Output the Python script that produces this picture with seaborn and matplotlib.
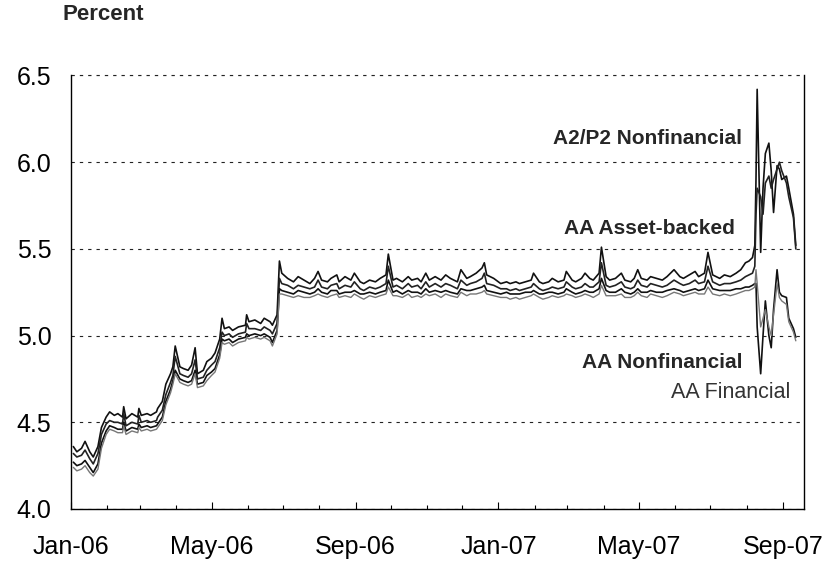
import matplotlib
matplotlib.use("Agg")
import matplotlib.pyplot as plt
import matplotlib.dates as mdates
import seaborn as sns
import pandas as pd

# ---------------- data ----------------
dates = [
    "2006-01-03", "2006-01-06", "2006-01-10", "2006-01-13", "2006-01-17", "2006-01-20", "2006-01-24", "2006-01-27", "2006-01-31",
    "2006-02-03", "2006-02-07", "2006-02-10", "2006-02-14", "2006-02-15", "2006-02-17", "2006-02-22", "2006-02-27", "2006-02-28",
    "2006-03-02", "2006-03-07", "2006-03-10", "2006-03-15", "2006-03-16", "2006-03-20", "2006-03-23", "2006-03-27", "2006-03-29", "2006-03-31",
    "2006-04-04", "2006-04-07", "2006-04-11", "2006-04-14", "2006-04-17", "2006-04-19", "2006-04-24", "2006-04-27",
    "2006-05-01", "2006-05-04", "2006-05-08", "2006-05-10", "2006-05-12", "2006-05-16", "2006-05-19", "2006-05-24", "2006-05-30", "2006-05-31",
    "2006-06-02", "2006-06-07", "2006-06-12", "2006-06-15", "2006-06-20", "2006-06-22", "2006-06-26", "2006-06-28", "2006-06-30",
    "2006-07-05", "2006-07-10", "2006-07-14", "2006-07-19", "2006-07-24", "2006-07-28", "2006-07-31",
    "2006-08-03", "2006-08-08", "2006-08-11", "2006-08-16", "2006-08-18", "2006-08-23", "2006-08-28", "2006-08-31",
    "2006-09-05", "2006-09-08", "2006-09-13", "2006-09-18", "2006-09-22", "2006-09-27", "2006-09-29",
    "2006-10-03", "2006-10-06", "2006-10-11", "2006-10-16", "2006-10-19", "2006-10-24", "2006-10-27", "2006-10-31",
    "2006-11-03", "2006-11-08", "2006-11-13", "2006-11-17", "2006-11-21", "2006-11-27", "2006-11-30",
    "2006-12-05", "2006-12-08", "2006-12-13", "2006-12-18", "2006-12-20", "2006-12-22", "2006-12-28",
    "2007-01-03", "2007-01-08", "2007-01-11", "2007-01-16", "2007-01-19", "2007-01-24", "2007-01-29", "2007-01-31",
    "2007-02-05", "2007-02-08", "2007-02-13", "2007-02-16", "2007-02-21", "2007-02-26", "2007-02-28",
    "2007-03-05", "2007-03-08", "2007-03-13", "2007-03-16", "2007-03-20", "2007-03-23", "2007-03-28", "2007-03-30",
    "2007-04-03", "2007-04-06", "2007-04-11", "2007-04-16", "2007-04-19", "2007-04-24", "2007-04-27", "2007-04-30",
    "2007-05-03", "2007-05-08", "2007-05-11", "2007-05-16", "2007-05-21", "2007-05-25", "2007-05-31",
    "2007-06-05", "2007-06-08", "2007-06-13", "2007-06-18", "2007-06-21", "2007-06-26", "2007-06-29",
    "2007-07-03", "2007-07-09", "2007-07-13", "2007-07-18", "2007-07-23", "2007-07-27", "2007-07-31",
    "2007-08-03", "2007-08-06", "2007-08-08", "2007-08-09", "2007-08-10", "2007-08-13", "2007-08-15", "2007-08-17",
    "2007-08-20", "2007-08-22", "2007-08-24", "2007-08-27", "2007-08-29", "2007-08-31",
    "2007-09-04", "2007-09-06", "2007-09-10", "2007-09-12",
]

a2p2_nonfinancial = [
    4.36, 4.33, 4.35, 4.39, 4.33, 4.30, 4.36, 4.47, 4.53,
    4.56, 4.54, 4.55, 4.53, 4.59, 4.52, 4.55, 4.53, 4.58,
    4.54, 4.55, 4.54, 4.56, 4.58, 4.62, 4.72, 4.78, 4.82, 4.94,
    4.82, 4.81, 4.80, 4.83, 4.93, 4.78, 4.80, 4.85,
    4.87, 4.90, 4.98, 5.10, 5.04, 5.05, 5.03, 5.05, 5.06, 5.12,
    5.08, 5.09, 5.07, 5.10, 5.08, 5.06, 5.12, 5.43, 5.36,
    5.33, 5.31, 5.34, 5.32, 5.30, 5.33, 5.37,
    5.32, 5.31, 5.33, 5.35, 5.31, 5.34, 5.32, 5.36,
    5.31, 5.30, 5.32, 5.31, 5.33, 5.35, 5.47,
    5.32, 5.33, 5.31, 5.34, 5.32, 5.33, 5.31, 5.36,
    5.32, 5.34, 5.32, 5.35, 5.33, 5.31, 5.38,
    5.33, 5.34, 5.36, 5.39, 5.42, 5.35, 5.33,
    5.30, 5.31, 5.30, 5.31, 5.30, 5.31, 5.32, 5.36,
    5.31, 5.30, 5.31, 5.33, 5.31, 5.32, 5.37,
    5.32, 5.31, 5.33, 5.36, 5.33, 5.32, 5.36, 5.51,
    5.34, 5.32, 5.33, 5.36, 5.32, 5.31, 5.33, 5.38,
    5.33, 5.32, 5.34, 5.33, 5.32, 5.34, 5.38,
    5.34, 5.33, 5.35, 5.37, 5.34, 5.36, 5.48,
    5.35, 5.33, 5.35, 5.34, 5.36, 5.38, 5.42,
    5.43, 5.45, 5.52, 5.90, 6.42, 5.48, 5.85, 6.05,
    6.11, 5.95, 5.71, 5.98, 5.96, 5.90,
    5.92, 5.85, 5.70, 5.52,
]

aa_asset_backed = [
    4.32, 4.30, 4.31, 4.34, 4.29, 4.26, 4.32, 4.43, 4.49,
    4.51, 4.50, 4.50, 4.49, 4.55, 4.48, 4.50, 4.49, 4.54,
    4.50, 4.51, 4.50, 4.51, 4.53, 4.57, 4.66, 4.73, 4.77, 4.88,
    4.78, 4.77, 4.76, 4.78, 4.86, 4.75, 4.76, 4.80,
    4.83, 4.85, 4.93, 5.02, 5.00, 5.01, 4.99, 5.01, 5.02, 5.07,
    5.04, 5.04, 5.03, 5.05, 5.03, 5.01, 5.07, 5.33, 5.30,
    5.29, 5.27, 5.29, 5.28, 5.27, 5.28, 5.32,
    5.28, 5.27, 5.29, 5.30, 5.27, 5.29, 5.28, 5.31,
    5.27, 5.26, 5.28, 5.27, 5.28, 5.30, 5.40,
    5.28, 5.29, 5.27, 5.30, 5.28, 5.29, 5.27, 5.31,
    5.28, 5.30, 5.28, 5.30, 5.29, 5.27, 5.32,
    5.29, 5.30, 5.31, 5.33, 5.36, 5.30, 5.29,
    5.27, 5.27, 5.26, 5.27, 5.26, 5.27, 5.28, 5.30,
    5.27, 5.26, 5.27, 5.28, 5.27, 5.28, 5.31,
    5.28, 5.27, 5.28, 5.30, 5.28, 5.28, 5.31, 5.42,
    5.29, 5.28, 5.29, 5.31, 5.28, 5.27, 5.28, 5.32,
    5.29, 5.28, 5.30, 5.29, 5.28, 5.29, 5.32,
    5.30, 5.29, 5.30, 5.32, 5.30, 5.31, 5.40,
    5.31, 5.29, 5.30, 5.30, 5.31, 5.32, 5.34,
    5.35, 5.36, 5.40, 5.70, 5.85, 5.80, 5.70, 5.88,
    5.92, 5.85, 5.90, 5.96, 6.00, 5.95,
    5.88, 5.80, 5.68, 5.50,
]

aa_nonfinancial = [
    4.27, 4.25, 4.26, 4.28, 4.24, 4.21, 4.26, 4.38, 4.45,
    4.48, 4.47, 4.46, 4.46, 4.50, 4.45, 4.47, 4.46, 4.49,
    4.47, 4.48, 4.47, 4.48, 4.49, 4.53, 4.62, 4.69, 4.74, 4.80,
    4.75, 4.74, 4.73, 4.74, 4.80, 4.72, 4.73, 4.77,
    4.79, 4.81, 4.89, 4.98, 4.97, 4.98, 4.96, 4.98, 4.99, 5.01,
    5.00, 5.01, 5.00, 5.01, 4.99, 4.96, 5.03, 5.27, 5.26,
    5.25, 5.24, 5.26, 5.25, 5.24, 5.25, 5.27,
    5.25, 5.24, 5.26, 5.26, 5.24, 5.25, 5.25, 5.26,
    5.24, 5.24, 5.25, 5.24, 5.25, 5.26, 5.32,
    5.25, 5.26, 5.24, 5.26, 5.25, 5.25, 5.24, 5.27,
    5.25, 5.26, 5.25, 5.26, 5.25, 5.24, 5.27,
    5.26, 5.26, 5.27, 5.28, 5.29, 5.26, 5.25,
    5.24, 5.25, 5.24, 5.24, 5.24, 5.25, 5.25, 5.26,
    5.24, 5.24, 5.25, 5.25, 5.24, 5.25, 5.27,
    5.25, 5.24, 5.25, 5.26, 5.25, 5.25, 5.27, 5.33,
    5.26, 5.25, 5.25, 5.27, 5.25, 5.24, 5.25, 5.27,
    5.25, 5.25, 5.26, 5.25, 5.25, 5.26, 5.27,
    5.26, 5.25, 5.26, 5.27, 5.26, 5.27, 5.32,
    5.27, 5.26, 5.26, 5.26, 5.27, 5.27, 5.28,
    5.28, 5.29, 5.30, 5.30, 5.05, 4.78, 5.00, 5.20,
    5.00, 4.93, 5.15, 5.38, 5.25, 5.23,
    5.22, 5.10, 5.04, 4.99,
]

aa_financial = [
    4.24, 4.22, 4.23, 4.25, 4.21, 4.19, 4.23, 4.35, 4.43,
    4.46, 4.45, 4.44, 4.44, 4.48, 4.43, 4.45, 4.44, 4.47,
    4.45, 4.46, 4.45, 4.46, 4.47, 4.51, 4.60, 4.67, 4.72, 4.78,
    4.73, 4.72, 4.71, 4.72, 4.78, 4.70, 4.71, 4.74,
    4.77, 4.79, 4.87, 4.96, 4.95, 4.96, 4.94, 4.96, 4.97, 4.99,
    4.98, 4.99, 4.98, 4.99, 4.97, 4.94, 5.01, 5.24, 5.24,
    5.23, 5.22, 5.23, 5.22, 5.22, 5.23, 5.24,
    5.23, 5.22, 5.23, 5.24, 5.22, 5.23, 5.22, 5.24,
    5.22, 5.21, 5.23, 5.22, 5.23, 5.24, 5.28,
    5.23, 5.23, 5.22, 5.24, 5.22, 5.23, 5.22, 5.24,
    5.23, 5.24, 5.22, 5.24, 5.23, 5.22, 5.25,
    5.23, 5.24, 5.24, 5.25, 5.26, 5.24, 5.23,
    5.22, 5.22, 5.21, 5.22, 5.21, 5.22, 5.23, 5.24,
    5.22, 5.21, 5.22, 5.23, 5.22, 5.23, 5.24,
    5.23, 5.22, 5.23, 5.24, 5.23, 5.22, 5.24, 5.29,
    5.23, 5.23, 5.23, 5.24, 5.22, 5.22, 5.23, 5.25,
    5.23, 5.22, 5.24, 5.23, 5.22, 5.23, 5.25,
    5.24, 5.23, 5.24, 5.25, 5.24, 5.24, 5.28,
    5.24, 5.23, 5.24, 5.23, 5.24, 5.25, 5.26,
    5.26, 5.27, 5.28, 5.38, 5.30, 5.05, 5.10, 5.15,
    5.05, 5.00, 5.12, 5.30, 5.22, 5.20,
    5.18, 5.08, 5.02, 4.97,
]

y_ticks = [4.0, 4.5, 5.0, 5.5, 6.0, 6.5]
x_label_months = ["2006-01-01", "2006-05-01", "2006-09-01", "2007-01-01", "2007-05-01", "2007-09-01"]
x_limits = ["2006-01-01", "2007-09-19"]

series_names = ["A2/P2 Nonfinancial", "AA Asset-backed", "AA Nonfinancial", "AA Financial"]
series_values = [a2p2_nonfinancial, aa_asset_backed, aa_nonfinancial, aa_financial]
for v in series_values:
    assert len(v) == len(dates), (len(v), len(dates))

# ---------------- figure ----------------
sns.set_theme(style="white")
plt.rcParams["font.family"] = ["Liberation Sans", "DejaVu Sans"]

W, H = 829, 564
fig = plt.figure(figsize=(W / 100, H / 100), dpi=100)
left_px, right_px, top_px, bottom_px = 71, 804, 75.5, 509
ax = fig.add_axes([left_px / W, 1 - bottom_px / H, (right_px - left_px) / W, (bottom_px - top_px) / H])

x = pd.to_datetime(dates)
styles = {
    "A2/P2 Nonfinancial": dict(color="#111111", lw=1.2),
    "AA Asset-backed": dict(color="#222222", lw=1.2),
    "AA Nonfinancial": dict(color="#111111", lw=1.2),
    "AA Financial": dict(color="#777777", lw=1.0),
}
for name, vals in zip(series_names, series_values):
    sns.lineplot(x=x, y=vals, ax=ax, estimator=None, legend=False, **styles[name])

ax.set_ylim(4.0, 6.5)
ax.set_xlim(pd.to_datetime(x_limits[0]), pd.to_datetime(x_limits[1]))

grid_dash = (0, (3, 4.5))
ax.set_yticks(y_ticks)
ax.set_yticklabels([f"{t:.1f}" for t in y_ticks])
ax.yaxis.grid(True, linestyle=grid_dash, color="#222222", linewidth=0.8)
ax.xaxis.grid(False)
ax.tick_params(axis="y", length=0, pad=14, labelsize=18, labelcolor="black")

ax.set_xticks(pd.to_datetime(x_label_months))
ax.xaxis.set_major_formatter(mdates.DateFormatter("%b-%y"))
ax.xaxis.set_minor_locator(mdates.MonthLocator())
ax.tick_params(axis="x", which="major", direction="in", length=5, width=0.8,
               color="black", labelsize=18, pad=19, labelcolor="black", bottom=True)
ax.tick_params(axis="x", which="minor", direction="in", length=3, width=0.8,
               color="black", bottom=True)

ax.set_xlabel("")
ax.set_ylabel("")

ax.spines["top"].set_visible(False)
for s in ["left", "bottom", "right"]:
    ax.spines[s].set_visible(True)
    ax.spines[s].set_color("black")
    ax.spines[s].set_linewidth(1.0)
ax.axhline(6.5, color="#222222", linestyle=grid_dash, linewidth=0.8, clip_on=False)

# labels
fig.text(62 / W, 1 - 15 / H, "Percent", ha="left", va="center", fontsize=16, fontweight="bold")
fig.text(742 / W, 1 - 139 / H, "A2/P2 Nonfinancial", ha="right", va="center", fontsize=15, fontweight="bold")
fig.text(735 / W, 1 - 228 / H, "AA Asset-backed", ha="right", va="center", fontsize=15, fontweight="bold")
fig.text(743 / W, 1 - 363 / H, "AA Nonfinancial", ha="right", va="center", fontsize=15, fontweight="bold")
fig.text(790 / W, 1 - 393 / H, "AA Financial", ha="right", va="center", fontsize=15.5, color="#333333")

fig.savefig("out.png", dpi=100, facecolor="white")
